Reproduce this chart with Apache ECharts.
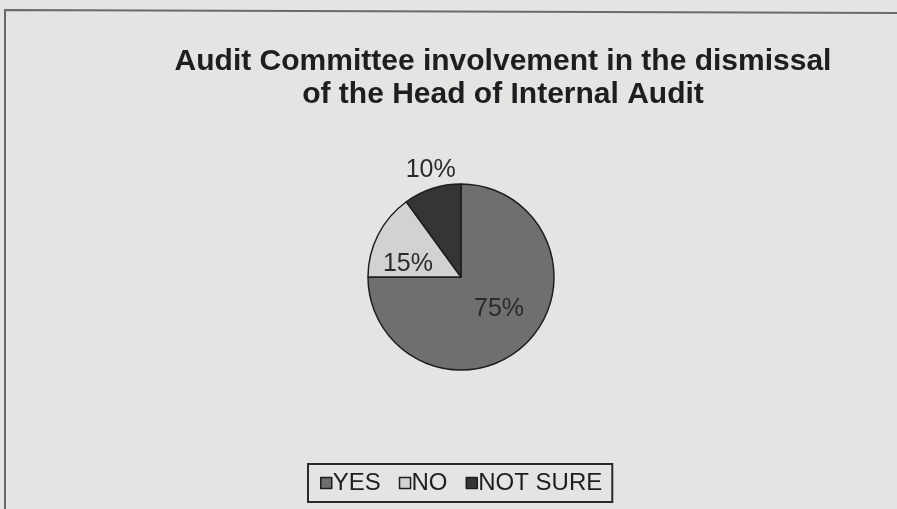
<!DOCTYPE html>
<html>
<head>
<meta charset="utf-8">
<script src="https://cdn.jsdelivr.net/npm/echarts@6/dist/echarts.min.js"></script>
<style>
  html, body { margin: 0; padding: 0; background: #e4e4e2; }
  #chart { width: 897px; height: 509px; }
</style>
</head>
<body>
<div id="chart"></div>
<script>
// Survey answers and their share of respondents (%)
const categories = ['YES', 'NO', 'NOT SURE'];
const shares = [75, 15, 10];
const sliceColors = ['#6f6f6f', '#d2d2d0', '#353535'];

const chart = echarts.init(document.getElementById('chart'));

// per-slice label placement: the small slice gets its label above the pie
const labelOffsets = [[3, -3], [-9, 10], [-15, -60]];

chart.setOption({
  backgroundColor: '#e4e4e2',
  animation: false,
  title: {
    text: 'Audit Committee involvement in the dismissal\nof the Head of Internal Audit',
    left: 498,
    top: 40,
    textAlign: 'center',
    textStyle: {
      fontFamily: 'Liberation Sans, Arial, sans-serif',
      fontWeight: 'bold',
      fontSize: 30,
      lineHeight: 33,
      color: '#1e1e1e'
    }
  },
  legend: {
    data: categories,
    left: 308,
    top: 464,
    orient: 'horizontal',
    itemWidth: 11,
    itemHeight: 11,
    itemGap: 18,
    padding: [7, 10, 7, 12],
    borderColor: '#2a2a2a',
    borderWidth: 2,
    icon: 'rect',
    itemStyle: { borderColor: '#1e1e1e', borderWidth: 1.5 },
    textStyle: {
      fontFamily: 'Liberation Sans, Arial, sans-serif',
      fontSize: 24,
      color: '#1e1e1e',
      padding: [0, 0, 0, -4]
    }
  },
  graphic: [
    {
      type: 'polyline',
      shape: { points: [[5, 520], [5, 10], [897, 13]] },
      style: { stroke: '#6a6a6a', lineWidth: 2, fill: null }
    }
  ],
  series: [
    {
      type: 'pie',
      center: [461, 277],
      radius: 93,
      startAngle: 90,
      clockwise: true,
      silent: true,
      itemStyle: { borderColor: '#1e1e1e', borderWidth: 1.5 },
      label: {
        position: 'inside',
        formatter: '{c}%',
        fontFamily: 'Liberation Sans, Arial, sans-serif',
        fontSize: 25,
        color: '#2a2a2a'
      },
      labelLine: { show: false },
      data: categories.map((name, i) => ({
        name: name,
        value: shares[i],
        itemStyle: { color: sliceColors[i] },
        label: { offset: labelOffsets[i] }
      }))
    }
  ]
});
</script>
</body>
</html>
